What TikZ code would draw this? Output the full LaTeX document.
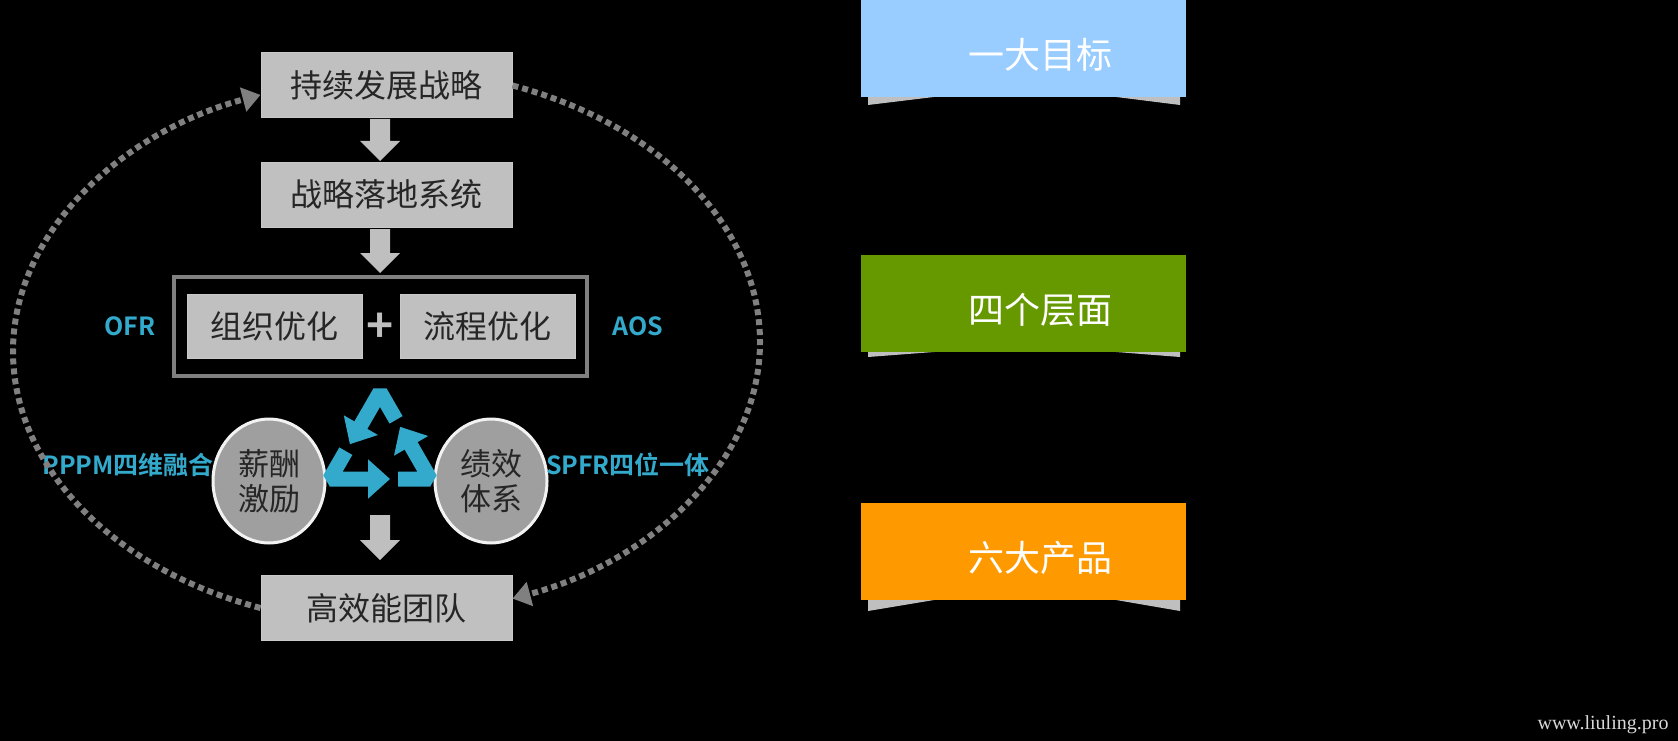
\documentclass[tikz,border=0pt]{standalone}
\usepackage{fontspec}
\setmainfont{Noto Sans CJK SC}
\newfontfamily\lbl{Noto Sans CJK SC Bold}
\newfontfamily\wmf{Liberation Serif}
\usetikzlibrary{arrows.meta,shapes.geometric,calc}
\definecolor{boxg}{HTML}{C0C0C0}
\definecolor{arrg}{HTML}{BFBFBF}
\definecolor{dotg}{HTML}{808080}
\definecolor{cy}{HTML}{33AACC}
\definecolor{lb}{HTML}{99CCFF}
\definecolor{gr}{HTML}{669900}
\definecolor{og}{HTML}{FF9900}
\begin{document}
\begin{tikzpicture}[x=1pt,y=1pt,
  gbox/.style={fill=boxg,draw=boxg!85!white,line width=1pt,minimum width=251pt,minimum height=65pt,inner sep=0pt,font=\fontsize{32}{34}\selectfont,text=black!85},
  ibox/.style={gbox,minimum width=175pt,minimum height=64pt},
  circ/.style={ellipse,fill=gray!75,draw=white!90!gray,line width=3pt,minimum width=112pt,minimum height=124pt,inner sep=0pt,align=center,font=\fontsize{31}{35}\selectfont,text=black!85},
  cyl/.style={text=cy,font=\lbl\fontsize{25}{27}\selectfont},
  rbox/.style={minimum width=325pt,minimum height=97pt,inner sep=0pt,text=white,font=\fontsize{36}{38}\selectfont},
  dots/.style={dotg,line width=6pt,dash pattern=on 6pt off 4pt,-{Triangle[length=18pt,width=24pt]}},
  rec/.style={cy,line width=15pt,line join=bevel,-{Triangle[length=22pt,width=38pt]}},
  barr/.style={fill=arrg},
  flap/.style={fill=arrg}
]
\useasboundingbox[fill=black] (0,0) rectangle (1678,-741);
\node[gbox] (b1) at (386.5,-85.5) {持续发展战略};
\node[gbox] (b2) at (386.5,-194.5) {战略落地系统};
\node[gbox] (b3) at (386.5,-608) {高效能团队};
\node[draw=dotg,line width=4pt,minimum width=413pt,minimum height=99pt] (fr) at (380.5,-326.5) {};
\node[ibox] (o1) at (274.5,-326) {组织优化};
\node[ibox] (o2) at (487.5,-326) {流程优化};
\node[text=arrg,font=\lbl\fontsize{46}{46}\selectfont] (pl) at (380,-328) {+};
\node[cyl] (ofr) at (130,-326) {OFR};
\node[cyl] (aos) at (638,-326) {AOS};
\node[circ] (c1) at (269,-481) {薪酬\\激励};
\node[circ] (c2) at (491,-481) {绩效\\体系};
\node[cyl] (pp) at (128,-465) {PPPM四维融合};
\node[cyl] (sp) at (628,-465) {SPFR四位一体};
% block arrows
\foreach \t/\b in {119/161,229/273,515/560}{
  \fill[barr] (370,-\t) -- (390,-\t) -- (390,-\b+20) -- (400,-\b+20) -- (380,-\b) -- (360,-\b+20) -- (370,-\b+20) -- cycle;
}
% recycle symbol
\coordinate (rc) at (380,-450);
\coordinate (v1) at ([shift={(90:58)}]rc);
\coordinate (v2) at ([shift={(210:58)}]rc);
\coordinate (v3) at ([shift={(330:58)}]rc);
\draw[rec] ($(v1)!0.32!(v3)$) -- (v1) -- ($(v1)!0.6!(v2)$);
\draw[rec] ($(v2)!0.32!(v1)$) -- (v2) -- ($(v2)!0.6!(v3)$);
\draw[rec] ($(v3)!0.32!(v2)$) -- (v3) -- ($(v3)!0.6!(v1)$);
% dotted loop
\draw[dots] (b1.east) arc[start angle=70,end angle=-70,x radius=376,y radius=273];
\draw[dots] (b3.west) arc[start angle=250,end angle=110,x radius=376,y radius=273];
% right boxes
\foreach \n/\c/\y/\t/\f in {r1/lb/0/一大目标/8,r2/gr/255/四个层面/5,r3/og/503/六大产品/11}{
  \fill[flap] (868,-\y-97) -- (934,-\y-97) -- (868,-\y-97-\f) -- cycle;
  \fill[flap] (1116,-\y-97) -- (1180,-\y-97) -- (1180,-\y-97-\f) -- cycle;
  \node[rbox,fill=\c] (\n) at (1023.5,-\y-48.5) {};
  \node[text=white,font=\fontsize{36}{38}\selectfont] (\n t) at (1040,-\y-55) {\t};
}
\node[text=white!85!black,font=\wmf\fontsize{20}{22}\selectfont,anchor=east] (wm) at (1672,-725) {www.liuling.pro};
\end{tikzpicture}
\end{document}
